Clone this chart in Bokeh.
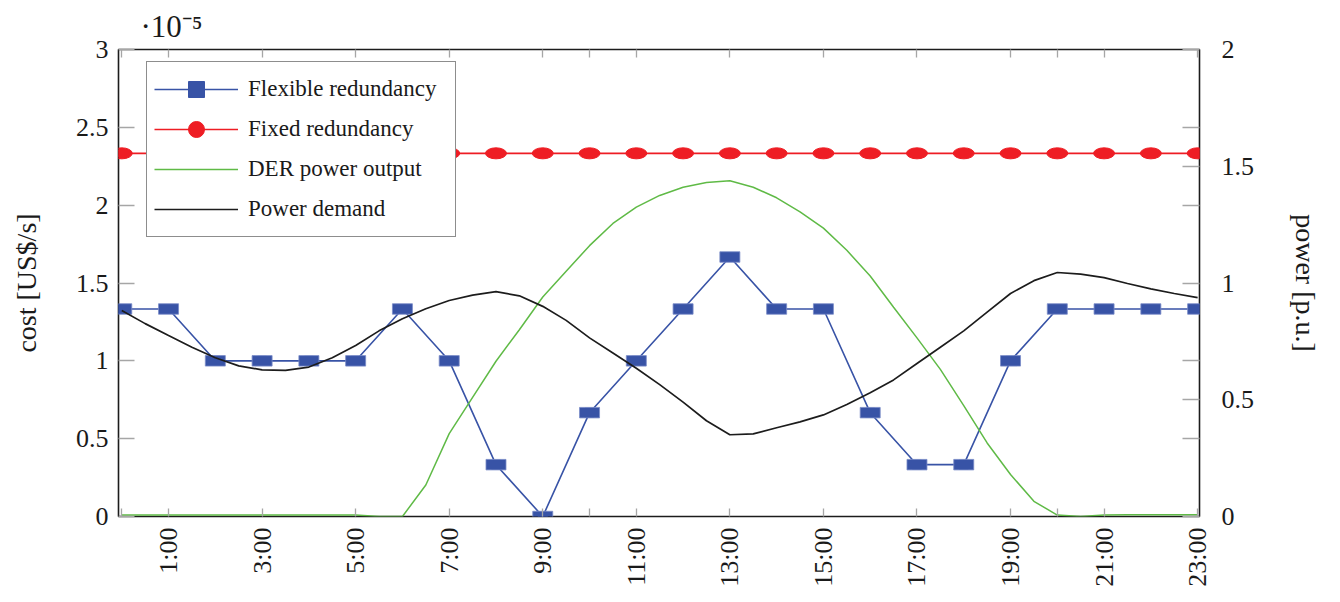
from bokeh.plotting import figure
from bokeh.models import (Range1d, LinearAxis, FixedTicker, Legend, LegendItem)
from bokeh.embed import file_html
from bokeh.resources import INLINE

# ---------------- data ----------------
hours = [0, 1, 2, 3, 4, 5, 6, 7, 8, 9, 10, 11, 12, 13, 14, 15, 16, 17, 18, 19, 20, 21, 22, 23]
# cost in units of 1e-5 US$/s
flexible = [1.333, 1.333, 1.0, 1.0, 1.0, 1.0, 1.333, 1.0, 0.333, 0.0, 0.667, 1.0,
            1.333, 1.667, 1.333, 1.333, 0.667, 0.333, 0.333, 1.0, 1.333, 1.333, 1.333, 1.333]
fixed = [2.333, 2.333, 2.333, 2.333, 2.333, 2.333, 2.333, 2.333, 2.333, 2.333, 2.333, 2.333,
         2.333, 2.333, 2.333, 2.333, 2.333, 2.333, 2.333, 2.333, 2.333, 2.333, 2.333, 2.333]

curve_hours = [0, 0.5, 1, 1.5, 2, 2.5, 3, 3.5, 4, 4.5, 5, 5.5, 6, 6.5, 7, 7.5, 8, 8.5, 9, 9.5,
               10, 10.5, 11, 11.5, 12, 12.5, 13, 13.5, 14, 14.5, 15, 15.5, 16, 16.5, 17, 17.5,
               18, 18.5, 19, 19.5, 20, 20.5, 21, 21.5, 22, 22.5, 23]
# power in p.u.
der_output = [0.006, 0.006, 0.006, 0.006, 0.006, 0.006, 0.006, 0.006, 0.006, 0.006, 0.006, 0.0,
              0.0, 0.135, 0.355, 0.51, 0.665, 0.80, 0.94, 1.05, 1.16, 1.255, 1.325, 1.375,
              1.41, 1.43, 1.438, 1.41, 1.365, 1.305, 1.235, 1.14, 1.03, 0.896, 0.765, 0.63,
              0.475, 0.315, 0.18, 0.065, 0.006, 0.0, 0.006, 0.007, 0.007, 0.007, 0.007]
demand = [0.882, 0.826, 0.775, 0.725, 0.68, 0.645, 0.628, 0.626, 0.64, 0.68, 0.732, 0.795,
          0.847, 0.89, 0.925, 0.948, 0.963, 0.945, 0.90, 0.84, 0.765, 0.70, 0.635, 0.565,
          0.49, 0.41, 0.35, 0.354, 0.38, 0.405, 0.435, 0.48, 0.53, 0.585, 0.655, 0.725,
          0.795, 0.875, 0.955, 1.01, 1.045, 1.038, 1.023, 0.998, 0.975, 0.955, 0.937]

x_ticks = [1, 3, 5, 7, 9, 11, 13, 15, 17, 19, 21, 23]
x_tick_labels = ["1:00", "3:00", "5:00", "7:00", "9:00", "11:00", "13:00", "15:00",
                 "17:00", "19:00", "21:00", "23:00"]
x_minor = [0, 10, 20]
cost_ticks = [0, 0.5, 1, 1.5, 2, 2.5, 3]
cost_labels = ["0", "0.5", "1", "1.5", "2", "2.5", "3"]
power_ticks = [0, 0.5, 1, 1.5, 2]
power_labels = ["0", "0.5", "1", "1.5", "2"]
power_mirror = [1 / 3, 2 / 3, 4 / 3, 5 / 3]
scale_note = "·10⁻⁵"

# ---------------- style ----------------
FONT = "Liberation Serif"
BLUE = "#3853a6"
RED = "#ee1d24"
GREEN = "#5fba46"
BLACK = "#1c1c1c"
TICK = "#a6a6a6"
TXT = "#1a1a1a"

p = figure(width=1330, height=590, x_range=Range1d(-0.07, 23.04), y_range=Range1d(0, 3),
           output_backend="svg", toolbar_location=None,
           min_border_left=118, min_border_right=131, min_border_top=49, min_border_bottom=74)
p.extra_y_ranges = {"power": Range1d(0, 2)}
p.xgrid.visible = False
p.ygrid.visible = False
p.outline_line_color = BLACK
p.outline_line_width = 1.6
p.background_fill_color = "white"
p.border_fill_color = "white"

p.title.text = scale_note
p.title.align = "left"
p.title.offset = 22
p.title.text_font = FONT
p.title.text_font_size = "31px"
p.title.text_font_style = "normal"
p.title.text_color = TXT
p.title.standoff = 11


def style_ticks(ax, length):
    ax.axis_line_color = None
    ax.major_tick_in = length
    ax.major_tick_out = 0
    ax.minor_tick_in = length
    ax.minor_tick_out = 0
    ax.major_tick_line_color = TICK
    ax.minor_tick_line_color = TICK
    ax.major_tick_line_width = 1.3
    ax.minor_tick_line_width = 1.3


# bottom axis
xa = p.xaxis[0]
xa.ticker = FixedTicker(ticks=x_ticks, minor_ticks=x_minor)
xa.major_label_overrides = {t: l for t, l in zip(x_ticks, x_tick_labels)}
xa.major_label_orientation = 3.141592653589793 / 2
xa.major_label_text_font = FONT
xa.major_label_text_font_size = "26px"
xa.major_label_text_color = TXT
xa.major_label_standoff = 11
style_ticks(xa, 8)

# top mirror ticks (no labels)
ta = LinearAxis(ticker=FixedTicker(ticks=[], minor_ticks=[0] + x_ticks + [10, 20]))
style_ticks(ta, 8)
p.add_layout(ta, "above")

# left axis
ya = p.yaxis[0]
ya.ticker = FixedTicker(ticks=cost_ticks, minor_ticks=[])
ya.major_label_overrides = {t: l for t, l in zip(cost_ticks, cost_labels)}
ya.major_label_text_font = FONT
ya.major_label_text_font_size = "26px"
ya.major_label_text_color = TXT
ya.major_label_standoff = 10
ya.axis_label = "cost [US$/s]"
ya.axis_label_text_font = FONT
ya.axis_label_text_font_size = "28px"
ya.axis_label_text_font_style = "normal"
ya.axis_label_text_color = TXT
ya.axis_label_standoff = 31
style_ticks(ya, 16)

# right axis
ra = LinearAxis(y_range_name="power", ticker=FixedTicker(ticks=power_ticks, minor_ticks=power_mirror))
ra.major_label_overrides = {t: l for t, l in zip(power_ticks, power_labels)}
ra.major_label_text_font = FONT
ra.major_label_text_font_size = "26px"
ra.major_label_text_color = TXT
ra.major_label_standoff = 22
ra.axis_label = "power [p.u.]"
ra.axis_label_text_font = FONT
ra.axis_label_text_font_size = "28px"
ra.axis_label_text_font_style = "normal"
ra.axis_label_text_color = TXT
ra.axis_label_standoff = 33
style_ticks(ra, 17)
p.add_layout(ra, "right")

# ---------------- series ----------------
blue_line = p.line(hours, flexible, line_color=BLUE, line_width=1.6)
blue_mark = p.scatter(hours, flexible, marker="square", size=9, fill_color=BLUE, line_color=BLUE)
p.rect(hours, flexible, width=20, height=10.5, width_units="screen", height_units="screen",
       fill_color=BLUE, line_color="#7a8cc8", line_width=0.8)

red_line = p.line(hours, fixed, line_color=RED, line_width=1.6)
red_mark = p.scatter(hours, fixed, marker="circle", size=9, fill_color=RED, line_color=RED)
p.ellipse(hours, fixed, width=21, height=11, width_units="screen", height_units="screen",
          fill_color=RED, line_color=RED)

green_line = p.line(curve_hours, der_output, y_range_name="power", line_color=GREEN, line_width=1.5)
black_line = p.line(curve_hours, demand, y_range_name="power", line_color=BLACK, line_width=1.7)

legend = Legend(items=[
    LegendItem(label="Flexible redundancy", renderers=[blue_line, blue_mark]),
    LegendItem(label="Fixed redundancy", renderers=[red_line, red_mark]),
    LegendItem(label="DER power output", renderers=[green_line]),
    LegendItem(label="Power demand", renderers=[black_line]),
], location=(28, 279), glyph_width=84, glyph_height=40, spacing=0, padding=7,
    label_standoff=10, label_width=200, label_text_font=FONT, label_text_font_size="23px",
    label_text_color=TXT, border_line_color=BLACK, border_line_width=1.5,
    background_fill_color="white", background_fill_alpha=1.0, margin=0)
p.add_layout(legend)

open("out.html", "w").write(file_html(p, INLINE))
